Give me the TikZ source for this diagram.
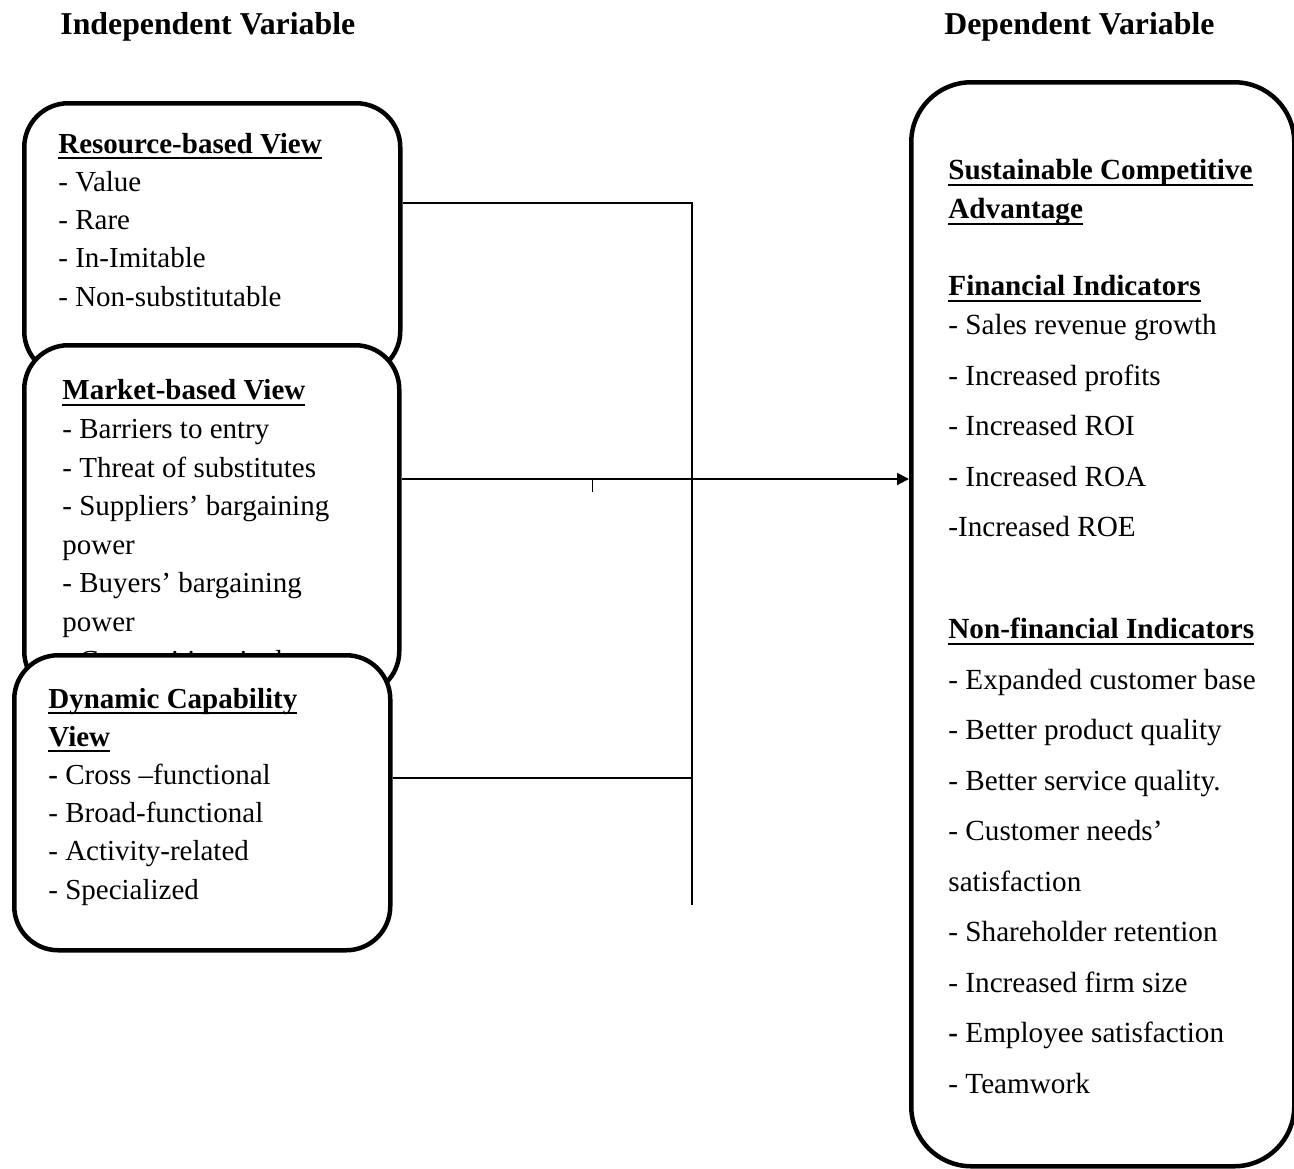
\documentclass[tikz,border=0pt]{standalone}
\usepackage{fontspec}
\setmainfont{Liberation Serif}
\usetikzlibrary{arrows.meta}
\newsavebox{\ulbox}
\newcommand{\ulhead}[1]{\sbox{\ulbox}{\textbf{#1}}\rlap{\rule[-3pt]{\wd\ulbox}{1pt}}\usebox{\ulbox}}
\newcommand{\gap}{\\[5.75pt]}
\begin{document}
\begin{tikzpicture}[x=0.5pt,y=-0.5pt,
	viewbox/.style={draw,fill=white,line width=2.25pt,rounded corners=22pt,anchor=north west,inner sep=0},
	boxtext/.style={anchor=base west,align=left,inner sep=0,font=\fontsize{14.5}{#1}\selectfont},
	head/.style={anchor=base west,inner sep=0,font=\fontsize{15.9}{18}\selectfont\bfseries},
	link/.style={line width=1pt}]
\useasboundingbox (0,0) rectangle (1294,1168);
\node[head] (indep) at (60,34) {Independent Variable};
\node[head] (dep) at (944,34) {Dependent Variable};
% views on the left, drawn so that each one covers the one above
% (text nodes sit on the baseline of their last line)
\node[viewbox,minimum width=188pt,minimum height=136pt] (rbv) at (22,101) {};
\node[boxtext=19.1pt] (rbvtext) at (58,306) {\ulhead{Resource-based View}\\
	- Value\\
	- Rare\\
	- In-Imitable\\
	- Non-substitutable};
\node[viewbox,minimum width=187.5pt,minimum height=175pt] (mbv) at (22,343) {};
\node[boxtext=19.3pt] (mbvtext) at (62,670) {\ulhead{Market-based View}\\
	- Barriers to entry\\
	- Threat of substitutes\\
	- Suppliers’ bargaining\\
	power\\
	- Buyers’ bargaining\\
	power\\
	- Competitive rivalry};
\node[viewbox,minimum width=188pt,minimum height=147.5pt] (dcv) at (12,653) {};
\node[boxtext=19.1pt] (dcvtext) at (48,899) {\ulhead{Dynamic Capability}\\
	\ulhead{View}\\
	\textbf{-} Cross –functional\\
	- Broad-functional\\
	- Activity-related\\
	- Specialized};
% outcome on the right
\node[viewbox,rounded corners=30pt,minimum width=191.5pt,minimum height=542pt] (sca) at (909,80) {};
\node[boxtext=19.5pt,font=\fontsize{14.6}{19.5}\selectfont] (scatext) at (948,1093) {\ulhead{Sustainable Competitive}\\
	\ulhead{Advantage}\\[19pt]
	\ulhead{Financial Indicators}\\
	- Sales revenue growth\gap
	- Increased profits\gap
	- Increased ROI\gap
	- Increased ROA\gap
	-Increased ROE\\[31.5pt]
	\ulhead{Non-financial Indicators}\gap
	- Expanded customer base\gap
	- Better product quality\gap
	- Better service quality.\gap
	- Customer needs’\gap
	satisfaction\gap
	- Shareholder retention\gap
	- Increased firm size\gap
	\textbf{-} Employee satisfaction\gap
	- Teamwork};
% connectors
\coordinate (jr) at (692,203);
\coordinate (jm) at (692,479);
\coordinate (jd) at (692,778);
\coordinate (jb) at (692,905);
\coordinate (tick) at (592,479);
\draw[link] (rbv.east |- jr) -- (jr) -- (jb);
\draw[link] (dcv.east |- jd) -- (jd);
\draw[link,-{Triangle[length=6pt,width=6pt]}] (mbv.east |- jm) -- (sca.west |- jm);
\draw[line width=0.5pt] (tick) -- ++(0,13);
\end{tikzpicture}
\end{document}
